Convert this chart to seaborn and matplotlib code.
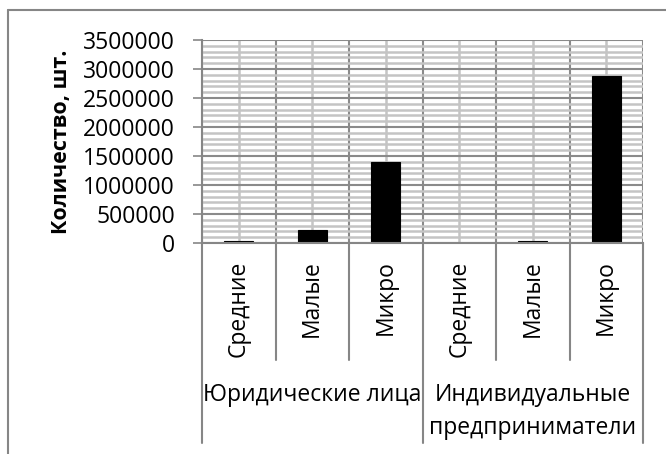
import pandas as pd
import numpy as np
import matplotlib.pyplot as plt
import seaborn as sns
from matplotlib.lines import Line2D
from matplotlib.ticker import MultipleLocator, FixedLocator

# Values
groups = ['Юридические лица', 'Индивидуальные\nпредприниматели']
sizes = ['Средние', 'Малые', 'Микро']
legal_counts = [30000, 220000, 1405000]
indiv_counts = [1000, 40000, 2885000]
y_ticks = [0, 500000, 1000000, 1500000, 2000000, 2500000, 3000000, 3500000]

sns.set_style('white')
plt.rcParams['font.family'] = ['Open Sans', 'DejaVu Sans']
plt.rcParams['text.color'] = 'black'

keys = [f'{g}|{s}' for g in groups for s in sizes]
df = pd.DataFrame({'key': keys, 'count': legal_counts + indiv_counts})

fig = plt.figure(figsize=(6.66, 4.54), dpi=100)
ax = fig.add_axes([202 / 666, 1 - 243 / 454, 441 / 666, 203 / 454])

sns.barplot(data=df, x='key', y='count', order=keys, color='black',
            width=0.4, edgecolor='black', linewidth=0.8, saturation=1, ax=ax)

n = len(keys)
ax.set_xlim(-0.5, n - 0.5)
ax.set_ylim(0, y_ticks[-1])
ax.set_yticks(y_ticks)
ax.set_yticklabels([str(v) for v in y_ticks], fontsize=16.5, color='black')
ax.yaxis.set_minor_locator(MultipleLocator(100000))
ax.xaxis.set_major_locator(FixedLocator(np.arange(n + 1) - 0.5))
ax.xaxis.set_minor_locator(FixedLocator(np.arange(n)))
ax.set_xticklabels([])
ax.tick_params(axis='x', which='both', length=0)
ax.tick_params(axis='y', which='major', length=6.5, width=1.2, color='#868686',
               direction='out', pad=13, left=True)
ax.tick_params(axis='y', which='minor', length=0)

ax.set_axisbelow(True)
ax.grid(which='minor', color='#c4c4c4', linewidth=1.8)
ax.grid(which='major', color='#8a8a8a', linewidth=1.5)
for side, sp in ax.spines.items():
    sp.set_visible(side in ('left', 'bottom'))
    sp.set_color('#868686')
    sp.set_linewidth(1.5)

ax.set_xlabel('')
ax.set_ylabel('Количество, шт.', fontsize=15.5, fontweight='bold', labelpad=8,
              color='black')

# category labels below the axis
trans = ax.get_xaxis_transform()
for i, k in enumerate(keys):
    ax.text(i, -0.085, k.split('|')[1], rotation=90, ha='center', va='top',
            fontsize=16.5, transform=trans)

# separator lines below the axis
tick_bottom = -(360 - 243) / 203
group_bottom = -(443 - 243) / 203
for b in range(n + 1):
    yb = group_bottom if b % len(sizes) == 0 else tick_bottom
    ax.plot([b - 0.5, b - 0.5], [0, yb], color='#868686', lw=1.5,
            transform=trans, clip_on=False)

for gi, g in enumerate(groups):
    xc = gi * len(sizes) + (len(sizes) - 1) / 2
    for li, line in enumerate(g.split('\n')):
        ax.text(xc, -(395 + 33 * li - 243) / 203, line, ha='center', va='center',
                fontsize=16.5, transform=trans)

# outer chart border
fig.add_artist(Line2D([8 / 666, 8 / 666], [0, 1 - 10 / 454], color='#868686', lw=1.5))
fig.add_artist(Line2D([8 / 666, 1], [1 - 10 / 454, 1 - 10 / 454], color='#868686', lw=1.5))

fig.savefig('out.png', dpi=100)
